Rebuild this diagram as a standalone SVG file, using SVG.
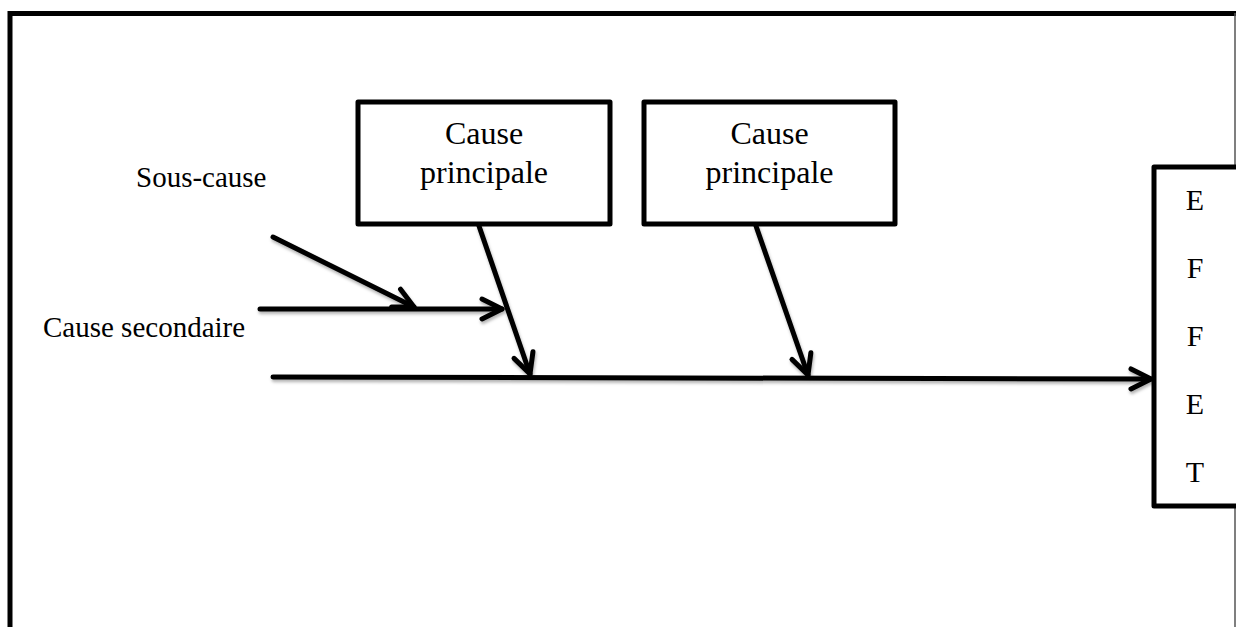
<svg xmlns="http://www.w3.org/2000/svg" width="1236" height="627" viewBox="0 0 1236 627">
  <style>
    .frame { fill: none; stroke: #000; stroke-width: 5; }
    .box { fill: #fff; stroke: #000; stroke-width: 5; stroke-linejoin: round; }
    .label { font-family: "Liberation Serif", "Times New Roman", serif; font-size: 29px; fill: #000; }
    .big { font-size: 32px; }
    .letter { font-size: 30px; }
    .mid { text-anchor: middle; }
    .edge { fill: none; stroke: #000; stroke-width: 5; stroke-linecap: round; }
  </style>
  <defs>
    <marker id="head" viewBox="-24 -13 27 26" markerWidth="27" markerHeight="26" refX="0" refY="0" orient="auto" markerUnits="userSpaceOnUse">
      <path d="M -20 -10 L 0 0 L -20 10" fill="none" stroke="#000" stroke-width="5" stroke-linecap="round" stroke-linejoin="round"/>
    </marker>
    <filter id="shade" x="-10%" y="-50%" width="120%" height="200%">
      <feDropShadow dx="1" dy="2.5" stdDeviation="1.5" flood-color="#000" flood-opacity="0.3"/>
    </filter>
  </defs>

  <rect width="1236" height="627" fill="#fff"/>

  <!-- page frame: open at the bottom, thin edge on the right -->
  <path class="frame" d="M 10 640 L 10 13.5 L 1240 13.5"/>
  <line x1="1235" y1="13" x2="1235" y2="627" stroke="#555" stroke-width="1.5"/>

  <!-- fishbone connectors -->
  <g id="connectors" filter="url(#shade)">
    <line class="edge" x1="273" y1="377" x2="1151" y2="379" marker-end="url(#head)"/>
    <line class="edge" x1="479" y1="226" x2="530" y2="374" marker-end="url(#head)"/>
    <line class="edge" x1="756" y1="226" x2="808" y2="375" marker-end="url(#head)"/>
    <line class="edge" x1="260" y1="309" x2="502" y2="309" marker-end="url(#head)"/>
    <line class="edge" x1="273" y1="237" x2="414" y2="307" marker-end="url(#head)"/>
  </g>

  <g id="cause-1">
    <rect class="box" x="358" y="102" width="252" height="122"/>
    <text class="label big mid" x="484" y="144">Cause</text>
    <text class="label big mid" x="484" y="183">principale</text>
  </g>

  <g id="cause-2">
    <rect class="box" x="644" y="102" width="251" height="122"/>
    <text class="label big mid" x="769.5" y="144">Cause</text>
    <text class="label big mid" x="769.5" y="183">principale</text>
  </g>

  <g id="sub-cause">
    <text class="label" x="136" y="187">Sous-cause</text>
  </g>

  <g id="secondary-cause">
    <text class="label" x="43" y="337">Cause secondaire</text>
  </g>

  <g id="effect">
    <path class="box" d="M 1240 167 L 1154 167 L 1154 506 L 1240 506"/>
    <text class="label letter mid" x="1195" y="210">E</text>
    <text class="label letter mid" x="1195" y="278">F</text>
    <text class="label letter mid" x="1195" y="346">F</text>
    <text class="label letter mid" x="1195" y="414">E</text>
    <text class="label letter mid" x="1195" y="482">T</text>
  </g>
</svg>
